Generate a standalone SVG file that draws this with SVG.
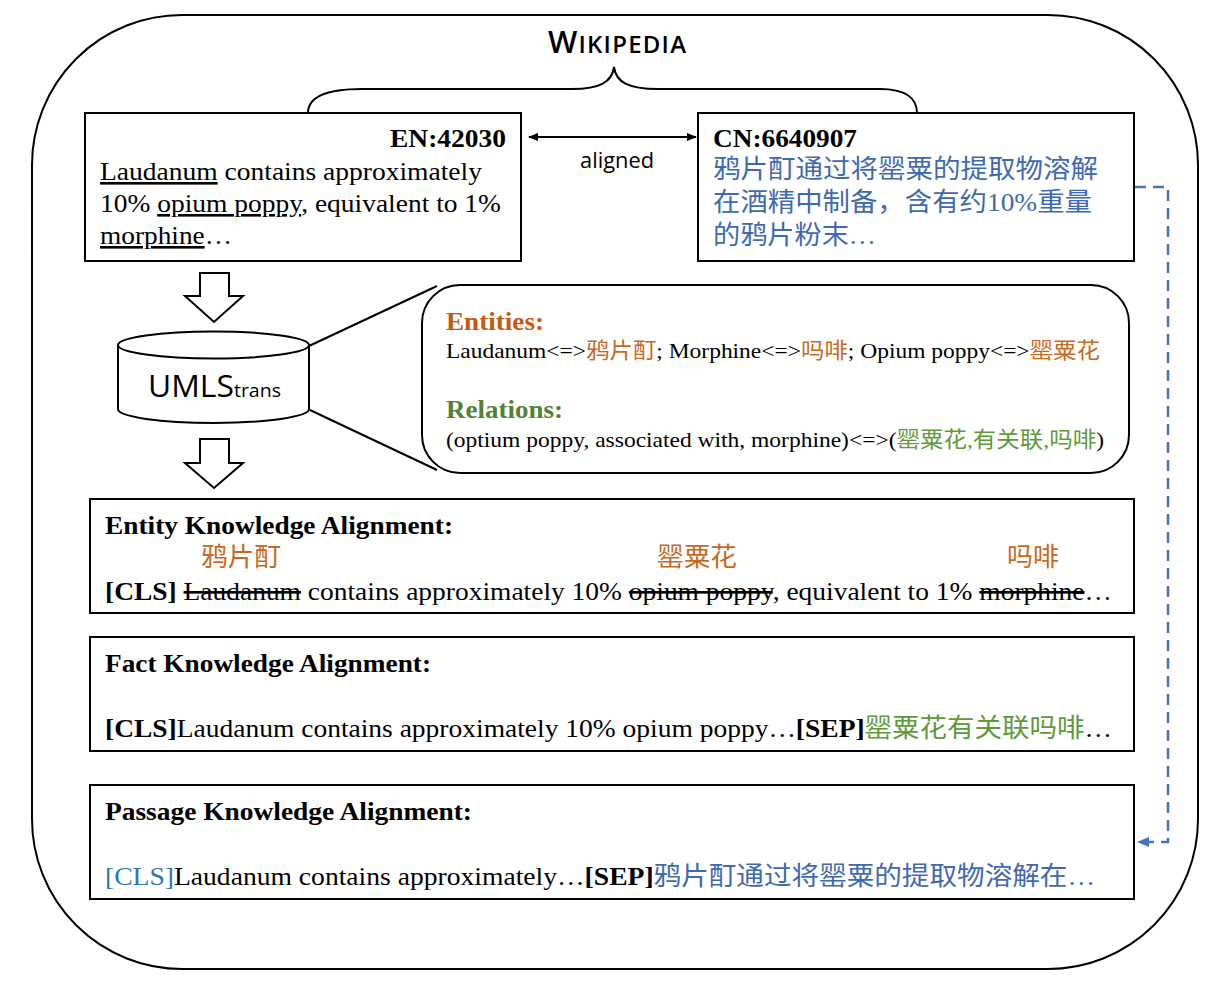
<svg xmlns="http://www.w3.org/2000/svg" width="1228" height="991" viewBox="0 0 1228 991">
<style>
.t{font-family:"Liberation Serif","Noto Sans CJK SC",serif;fill:#000}
.s{font-family:"Open Sans","Liberation Sans","Noto Sans CJK SC",sans-serif;fill:#000}
.b{font-weight:bold}
.or{fill:#C8691E}
.orb{fill:#C55A11}
.gr{fill:#5E9A3A}
.grb{fill:#548235}
.bl{fill:#3F69B3}
.blc{fill:#2E75B6}
.u{text-decoration:underline}
.x{text-decoration:line-through}
.box{fill:#fff;stroke:#000;stroke-width:2}
.ln{fill:none;stroke:#000;stroke-width:2}
</style>
<defs>
<marker id="ah" viewBox="0 0 10 8" refX="9" refY="4" markerWidth="10" markerHeight="8" markerUnits="userSpaceOnUse" orient="auto-start-reverse"><path d="M0,0 L10,4 L0,8 z" fill="#000"/></marker>
<marker id="ahb" viewBox="0 0 12 10" refX="11" refY="5" markerWidth="12" markerHeight="10" markerUnits="userSpaceOnUse" orient="auto"><path d="M0,0 L12,5 L0,10 z" fill="#4472C4"/></marker>
</defs>
<rect width="1228" height="991" fill="#fff"/>
<g id="frame">
<rect x="32" y="15" width="1166" height="954" rx="150" ry="150" fill="none" stroke="#000" stroke-width="2"/>
</g>
<g id="wikipedia">
<text class="s" x="548" y="53" textLength="138" font-weight="600"><tspan font-size="31">W</tspan><tspan font-size="24">IKIPEDIA</tspan></text>
<path class="ln" d="M308,113 C308,97 325,89 362,89 L572,89 C600,89 612,82 614,67 C616,82 628,89 658,89 L880,89 C905,89 917,98 917,113"/>
</g>
<g id="en-box">
<rect class="box" x="85" y="113" width="436" height="148"/>
<text class="t b" x="390" y="147" font-size="26" textLength="116" lengthAdjust="spacingAndGlyphs">EN:42030</text>
<text class="t" x="100" y="180" font-size="26" textLength="382" lengthAdjust="spacingAndGlyphs"><tspan class="u">Laudanum</tspan> contains approximately</text>
<text class="t" x="100" y="212" font-size="26" textLength="401" lengthAdjust="spacingAndGlyphs">10% <tspan class="u">opium poppy</tspan>, equivalent to 1%</text>
<text class="t" x="100" y="244" font-size="26" textLength="132" lengthAdjust="spacingAndGlyphs"><tspan class="u">morphine</tspan>…</text>
</g>
<g id="cn-box">
<rect class="box" x="698" y="113" width="436" height="148"/>
<text class="t b" x="713" y="147" font-size="26" textLength="144" lengthAdjust="spacingAndGlyphs">CN:6640907</text>
<text class="t bl" x="713" y="178" font-size="26" textLength="385" lengthAdjust="spacingAndGlyphs">鸦片酊通过将罂粟的提取物溶解</text>
<text class="t bl" x="713" y="211" font-size="26" textLength="379" lengthAdjust="spacingAndGlyphs">在酒精中制备，含有约<tspan font-family="Liberation Serif, serif">10%</tspan>重量</text>
<text class="t bl" x="713" y="244" font-size="26" textLength="163" lengthAdjust="spacingAndGlyphs">的鸦片粉末…</text>
</g>
<g id="umls">
<path d="M118,345 V409 A95.5,14 0 0 0 309,409 V345" fill="#fff" stroke="#000" stroke-width="2"/>
<ellipse cx="213.5" cy="345" rx="95.5" ry="13.5" fill="#fff" stroke="#000" stroke-width="2"/>
<text class="s" x="148" y="397" font-size="31" textLength="133" lengthAdjust="spacingAndGlyphs">UMLS<tspan font-size="19">trans</tspan></text>
</g>
<g id="knowledge-callout">
<rect class="box" x="422" y="285" width="707" height="188" rx="38" ry="38"/>
<text class="t b orb" x="446" y="330" font-size="26" textLength="98" lengthAdjust="spacingAndGlyphs">Entities:</text>
<text class="t" x="446" y="358" font-size="22" textLength="654" lengthAdjust="spacingAndGlyphs">Laudanum&lt;=&gt;<tspan class="or">鸦片酊</tspan>; Morphine&lt;=&gt;<tspan class="or">吗啡</tspan>; Opium poppy&lt;=&gt;<tspan class="or">罂粟花</tspan></text>
<text class="t b grb" x="446" y="418" font-size="26" textLength="117" lengthAdjust="spacingAndGlyphs">Relations:</text>
<text class="t" x="446" y="447" font-size="22" textLength="658" lengthAdjust="spacingAndGlyphs">(optium poppy, associated with, morphine)&lt;=&gt;(<tspan class="gr">罂粟花,有关联,吗啡</tspan>)</text>
</g>
<g id="entity-alignment">
<rect class="box" x="90" y="499" width="1044" height="114"/>
<text class="t b" x="105" y="534" font-size="26" textLength="348" lengthAdjust="spacingAndGlyphs">Entity Knowledge Alignment:</text>
<text class="t or" x="201" y="566" font-size="26" textLength="80" lengthAdjust="spacingAndGlyphs">鸦片酊</text>
<text class="t or" x="657" y="566" font-size="26" textLength="80" lengthAdjust="spacingAndGlyphs">罂粟花</text>
<text class="t or" x="1007" y="566" font-size="26" textLength="52" lengthAdjust="spacingAndGlyphs">吗啡</text>
<text class="t" x="105" y="600" font-size="26" textLength="1007" lengthAdjust="spacingAndGlyphs"><tspan class="b">[CLS]</tspan> <tspan class="x">Laudanum</tspan> contains approximately 10% <tspan class="x">opium poppy</tspan>, equivalent to 1% <tspan class="x">morphine</tspan>…</text>
</g>
<g id="fact-alignment">
<rect class="box" x="90" y="637" width="1044" height="114"/>
<text class="t b" x="105" y="672" font-size="26" textLength="326" lengthAdjust="spacingAndGlyphs">Fact Knowledge Alignment:</text>
<text class="t" x="105" y="737" font-size="26" textLength="1007" lengthAdjust="spacingAndGlyphs"><tspan class="b">[CLS]</tspan>Laudanum contains approximately 10% opium poppy…<tspan class="b">[SEP]</tspan><tspan class="gr">罂粟花有关联吗啡</tspan>…</text>
</g>
<g id="passage-alignment">
<rect class="box" x="90" y="785" width="1044" height="114"/>
<text class="t b" x="105" y="820" font-size="26" textLength="367" lengthAdjust="spacingAndGlyphs">Passage Knowledge Alignment:</text>
<text class="t" x="105" y="885" font-size="26" textLength="990" lengthAdjust="spacingAndGlyphs"><tspan class="blc">[CLS]</tspan>Laudanum contains approximately…<tspan class="b">[SEP]</tspan><tspan class="bl">鸦片酊通过将罂粟的提取物溶解在…</tspan></text>
</g>
<g id="connectors">
<line x1="529" y1="137" x2="696" y2="137" stroke="#000" stroke-width="2" marker-start="url(#ah)" marker-end="url(#ah)"/>
<text class="s" x="580" y="168" font-size="21" textLength="74" lengthAdjust="spacingAndGlyphs">aligned</text>
<polygon points="200,273 229,273 229,296 243,296 214,322 185,296 200,296" fill="#fff" stroke="#000" stroke-width="2" stroke-linejoin="miter"/>
<polygon points="200,439 229,439 229,463 243,463 214,488 185,463 200,463" fill="#fff" stroke="#000" stroke-width="2" stroke-linejoin="miter"/>
<line x1="309" y1="346" x2="437" y2="286" stroke="#000" stroke-width="2"/>
<line x1="310" y1="410" x2="437" y2="470" stroke="#000" stroke-width="2"/>
<path d="M1135,187 H1168 V842 H1138" fill="none" stroke="#4472C4" stroke-width="2.5" stroke-dasharray="11,7" marker-end="url(#ahb)"/>
</g>
</svg>
